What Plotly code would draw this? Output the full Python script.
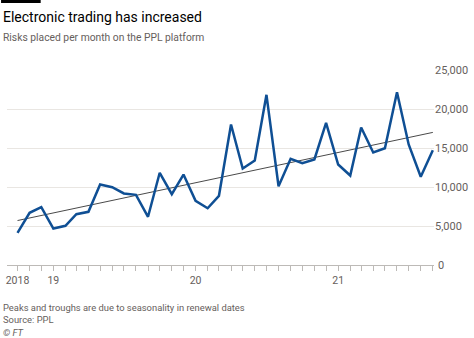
import plotly.graph_objects as go
import pandas as pd

# ---- data ----
months = pd.date_range("2018-10-01", periods=36, freq="MS")
risks = [4130, 6690, 7410, 4680, 5025, 6510, 6820, 10320, 9975, 9170,
         9000, 6180, 11820, 9080, 11600, 8230, 7280, 8870, 18010, 12370,
         13400, 21820, 10100, 13610, 13050, 13530, 18230, 12880, 11470, 17630,
         14420, 14970, 22150, 15450, 11310, 14720]
trend_dates = ["2018-10-01", "2021-09-01"]
trend_values = [5700, 17000]
y_ticks = [0, 5000, 10000, 15000, 20000, 25000]
y_tick_text = ["0", "5,000", "10,000", "15,000", "20,000", "25,000"]
x_label_map = {"2018-10-01": "2018", "2019-01-01": "19", "2020-01-01": "20", "2021-01-01": "21"}

title = "Electronic trading has increased"
subtitle = "Risks placed per month on the PPL platform"
footer_lines = ["Peaks and troughs are due to seasonality in renewal dates", "Source: PPL", "<i>© FT</i>"]

# ---- layout geometry (pixels) ----
W, H = 474, 338
L, R, T, B = 6, 437, 70, 265

def px(x):
    return (x - L) / (R - L)

def py(y):
    return (B - y) / (B - T)

FONT = "Roboto"
GRAY = "#66605c"

tick_text = [x_label_map.get(d.strftime("%Y-%m-%d"), "") for d in months]

fig = go.Figure()
fig.add_trace(go.Scatter(x=pd.to_datetime(trend_dates), y=trend_values, mode="lines",
                         line=dict(color="#4a4a4a", width=1), hoverinfo="skip"))
fig.add_trace(go.Scatter(x=months, y=risks, mode="lines",
                         line=dict(color="#0f4f94", width=2.5)))

fig.update_layout(
    width=W, height=H,
    margin=dict(l=L, r=W - R, t=T, b=H - B),
    paper_bgcolor="white", plot_bgcolor="white",
    showlegend=False,
    font=dict(family=FONT, color=GRAY, size=11),
    xaxis=dict(
        range=[pd.Timestamp("2018-09-04"), pd.Timestamp("2021-09-04")],
        tickvals=months, ticktext=tick_text,
        ticks="outside", ticklen=5, tickcolor="#bdbab7", tickwidth=1,
        showgrid=False, showline=True, linecolor="#bdbab7", linewidth=1,
        zeroline=False, tickfont=dict(size=10.5, color=GRAY, family=FONT),
    ),
    yaxis=dict(
        range=[0, 25000], side="right",
        tickvals=y_ticks[1:], ticktext=y_tick_text[1:],
        showgrid=True, gridcolor="#e9e6e2", gridwidth=1,
        zeroline=False, showline=False, ticks="",
        tickfont=dict(size=11, color=GRAY, family=FONT),
    ),
)

# zero label (drawn as annotation at the data value so it is not suppressed)
fig.add_annotation(text=y_tick_text[0], xref="paper", yref="y", x=1, y=y_ticks[0],
                   xanchor="left", yanchor="middle", xshift=2, showarrow=False,
                   font=dict(family=FONT, size=11, color=GRAY))

# top black bar
fig.add_shape(type="rect", xref="paper", yref="paper",
              x0=px(0), x1=px(40), y0=py(3), y1=py(0),
              fillcolor="#000000", line=dict(width=0), layer="above")

fig.add_annotation(text=title, xref="paper", yref="paper", x=px(0), y=py(17),
                   xanchor="left", yanchor="middle", showarrow=False,
                   font=dict(family=FONT, size=14, color="#000000"))
fig.add_annotation(text=subtitle, xref="paper", yref="paper", x=px(0), y=py(38),
                   xanchor="left", yanchor="middle", showarrow=False,
                   font=dict(family=FONT, size=10.3, color=GRAY))
for i, line in enumerate(footer_lines):
    fig.add_annotation(text=line, xref="paper", yref="paper", x=px(0), y=py(307 + 12.5 * i),
                       xanchor="left", yanchor="middle", showarrow=False,
                       font=dict(family=FONT, size=9.4, color=GRAY))

fig.write_html("out.html")
